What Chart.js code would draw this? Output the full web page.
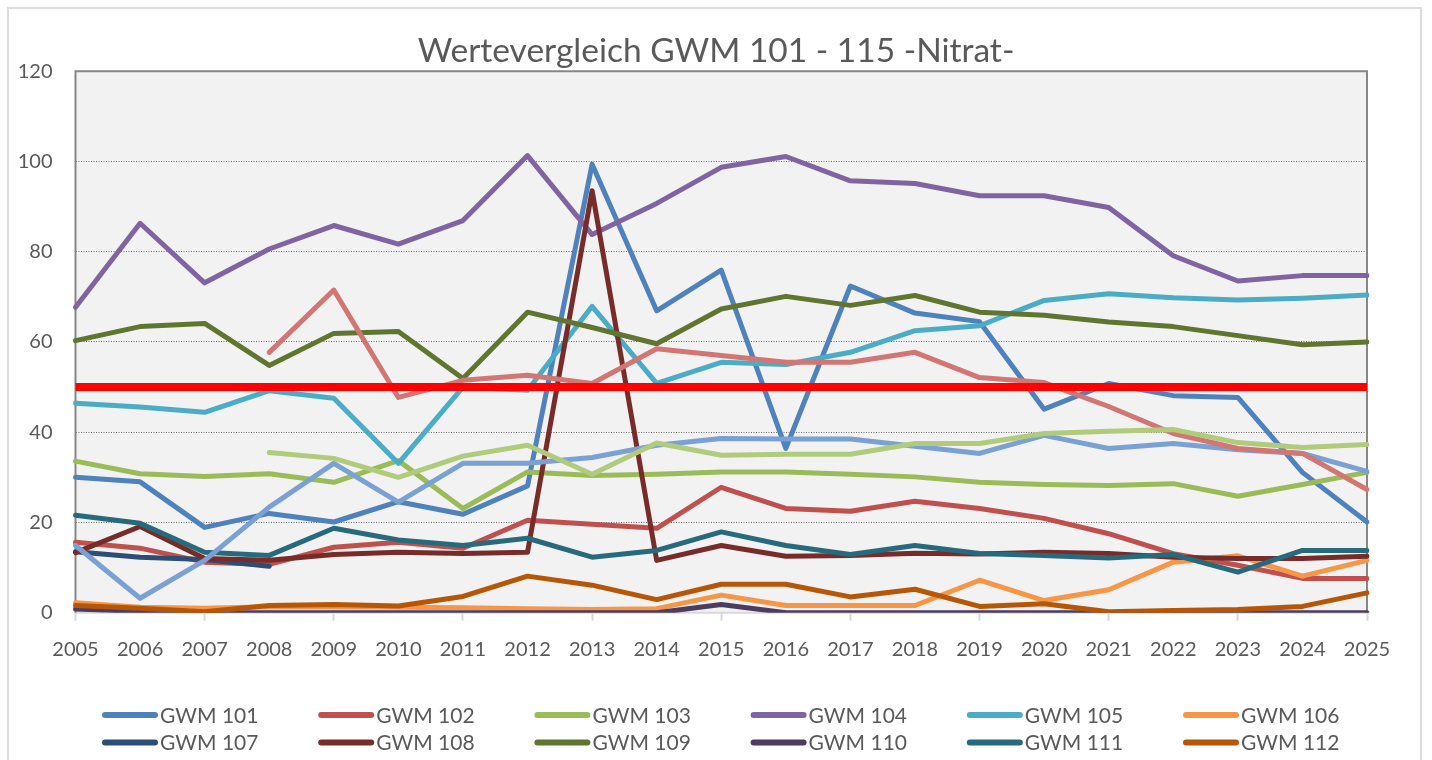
<!DOCTYPE html>
<html><head><meta charset="utf-8">
<script src="https://cdn.jsdelivr.net/npm/chart.js@4.4.1/dist/chart.umd.min.js"></script>
<style>
html,body{margin:0;padding:0;background:#fff;overflow:hidden;width:1432px;height:760px}
#frame{position:absolute;left:7px;top:7px;width:1415px;height:820px;border:2px solid #dcdcdc;box-sizing:border-box}
#c{position:absolute;left:0;top:0}
</style></head><body>
<div id="frame"></div>
<canvas id="c" width="1432" height="760"></canvas>
<script>
const years = ['2005','2006','2007','2008','2009','2010','2011','2012','2013','2014','2015','2016','2017','2018','2019','2020','2021','2022','2023','2024','2025'];
const seriesNames = ['GWM 101','GWM 102','GWM 103','GWM 104','GWM 105','GWM 106','GWM 107','GWM 108','GWM 109','GWM 110','GWM 111','GWM 112','GWM 113','GWM 114','GWM 115'];
const seriesColors = ['#4f81bd','#c0504d','#9bbb59','#8064a2','#4bacc6','#f79646','#2c4d75','#772c2a','#5f7530','#4d3b62','#276a7c','#b65708','#7ba0d4','#d27674','#b0cb7b'];

const gwm101 = [30.0, 29.0, 18.9, 22.0, 20.1, 24.6, 21.8, 28.1, 99.4, 66.9, 75.9, 36.4, 72.4, 66.4, 64.5, 45.1, 50.8, 48.1, 47.7, 31.1, 20.1];
const gwm102 = [15.6, 14.3, 11.2, 10.7, 14.5, 15.6, 14.3, 20.5, 19.6, 18.7, 27.8, 23.1, 22.5, 24.7, 23.1, 20.9, 17.5, 13.1, 10.5, 7.6, 7.6];
const gwm103 = [33.6, 30.8, 30.2, 30.8, 28.9, 33.7, 23.1, 31.2, 30.4, 30.7, 31.2, 31.2, 30.7, 30.1, 28.9, 28.4, 28.2, 28.6, 25.8, 28.4, 31.1];
const gwm104 = [67.7, 86.3, 73.1, 80.6, 85.8, 81.7, 86.9, 101.3, 83.8, 90.7, 98.7, 101.1, 95.7, 95.1, 92.4, 92.4, 89.8, 79.1, 73.5, 74.7, 74.7];
const gwm105 = [46.4, 45.6, 44.4, 49.2, 47.5, 33.1, 50.0, 49.3, 67.9, 50.8, 55.5, 55.0, 57.7, 62.5, 63.6, 69.2, 70.7, 69.8, 69.3, 69.7, 70.4];
const gwm106 = [2.2, 1.2, 1.0, 1.3, 1.3, 1.2, 1.1, 0.9, 0.7, 0.9, 3.9, 1.6, 1.6, 1.6, 7.2, 2.7, 5.1, 11.2, 12.6, 8.1, 11.6];
const gwm107 = [13.5, 12.3, 11.8, 10.3, null, null, null, null, null, null, null, null, null, null, null, null, null, null, null, null, null];
const gwm108 = [13.3, 19.1, 12.0, 11.6, 12.9, 13.4, 13.1, 13.4, 93.5, 11.6, 14.9, 12.5, 12.7, 13.2, 13.0, 13.4, 13.1, 12.3, 12.0, 12.0, 12.5];
const gwm109 = [60.3, 63.4, 64.1, 54.8, 61.9, 62.3, 51.9, 66.6, 63.2, 59.6, 67.3, 70.1, 68.1, 70.3, 66.6, 65.9, 64.4, 63.4, 61.4, 59.4, 60.0];
const gwm110 = [0.8, 0.3, 0, 0, 0, 0, 0, 0, 0, 0, 1.8, 0, 0, 0, 0, 0, 0, 0, 0, 0, 0];
const gwm111 = [21.6, 19.8, 13.4, 12.7, 18.7, 16.1, 14.9, 16.5, 12.3, 13.8, 17.9, 14.9, 12.9, 14.9, 13.1, 12.7, 12.1, 12.9, 9.0, 13.8, 13.8];
const gwm112 = [1.6, 1.0, 0.2, 1.6, 1.8, 1.5, 3.6, 8.1, 6.1, 2.9, 6.3, 6.3, 3.5, 5.2, 1.4, 2.0, 0.2, 0.5, 0.7, 1.4, 4.4];
const gwm113 = [14.9, 3.2, 11.6, 23.4, 33.1, 24.5, 33.1, 33.1, 34.4, 37.1, 38.6, 38.5, 38.5, 36.9, 35.3, 39.3, 36.4, 37.5, 36.1, 35.3, 31.3];
const gwm114 = [null, null, null, 57.7, 71.5, 47.7, 51.5, 52.6, 50.8, 58.5, 57.0, 55.5, 55.5, 57.7, 52.1, 51.0, 45.7, 39.7, 36.4, 35.3, 27.3];
const gwm115 = [null, null, null, 35.5, 34.2, 30.0, 34.7, 37.1, 30.7, 37.6, 34.9, 35.1, 35.1, 37.5, 37.5, 39.7, 40.2, 40.6, 37.7, 36.6, 37.3];
const limitLine = [50, 50, 50, 50, 50, 50, 50, 50, 50, 50, 50, 50, 50, 50, 50, 50, 50, 50, 50, 50, 50];
const yTicks = [0, 20, 40, 60, 80, 100, 120];

const seriesValues = [gwm101, gwm102, gwm103, gwm104, gwm105, gwm106, gwm107, gwm108, gwm109, gwm110, gwm111, gwm112, gwm113, gwm114, gwm115];

const FONT = 'Lato';
const TEXT = '#595959';

const datasets = seriesValues.map((vals, i) => ({
  label: seriesNames[i],
  data: vals,
  borderColor: seriesColors[i],
  backgroundColor: seriesColors[i],
  borderWidth: 5,
  pointRadius: 0,
  tension: 0,
  fill: false,
  spanGaps: false,
  borderCapStyle: 'round',
  borderJoinStyle: 'round',
  order: -i
}));
datasets.push({
  label: 'Grenzwert',
  isLimit: true,
  data: limitLine,
  borderColor: '#ff0000',
  borderWidth: 8,
  pointRadius: 0,
  tension: 0,
  fill: false,
  borderCapStyle: 'butt',
  order: -100
});

const plotFrame = {
  id: 'plotFrame',
  beforeDraw(chart) {
    const {ctx, chartArea: a} = chart;
    ctx.save();
    ctx.fillStyle = '#f2f2f2';
    ctx.fillRect(a.left, a.top, a.right - a.left, a.bottom - a.top);
    ctx.restore();
  },
  beforeDatasetsDraw(chart) {
    const {ctx, chartArea: a} = chart;
    ctx.save();
    ctx.lineWidth = 2;
    ctx.strokeStyle = '#d9d9d9';
    ctx.beginPath(); ctx.moveTo(a.left, a.bottom); ctx.lineTo(a.right, a.bottom); ctx.stroke();
    ctx.strokeStyle = '#868686';
    ctx.beginPath();
    ctx.moveTo(a.left, a.bottom); ctx.lineTo(a.left, a.top); ctx.lineTo(a.right, a.top); ctx.lineTo(a.right, a.bottom);
    ctx.stroke();
    ctx.restore();
  }
};

const gridLegend = {
  id: 'gridLegend',
  afterDraw(chart) {
    const ctx = chart.ctx;
    const items = chart.data.datasets.filter(d => !d.isLimit);
    ctx.save();
    items.forEach((d, i) => {
      const col = i % 6, row = Math.floor(i / 6);
      const x0 = 102 + col * 216.2;
      const yc = 715 + row * 27.5;
      ctx.strokeStyle = d.borderColor;
      ctx.lineWidth = 6;
      ctx.lineCap = 'round';
      ctx.beginPath(); ctx.moveTo(x0 + 3, yc); ctx.lineTo(x0 + 53, yc); ctx.stroke();
      ctx.fillStyle = TEXT;
      ctx.font = '21px ' + FONT;
      ctx.textBaseline = 'alphabetic';
      ctx.textAlign = 'left';
      ctx.fillText(d.label, x0 + 58, yc + 7.5);
    });
    ctx.restore();
  }
};

function draw() {
  new Chart(document.getElementById('c'), {
    type: 'line',
    data: {labels: years, datasets},
    options: {
      responsive: false,
      animation: false,
      events: [],
      layout: {padding: {left: 0, right: 0, top: 0, bottom: 97.3}},
      plugins: {
        legend: {display: false},
        tooltip: {enabled: false},
        title: {
          display: true,
          text: 'Wertevergleich GWM 101 - 115 -Nitrat-',
          color: TEXT,
          font: {family: FONT, size: 33.5, weight: 'normal'},
          padding: {top: 31, bottom: 0}
        }
      },
      scales: {
        x: {
          grid: {
            drawOnChartArea: false, drawTicks: true, tickLength: 8, tickWidth: 2,
            tickColor: (c) => (c.index % 2 === 0 ? '#d9d9d9' : 'rgba(0,0,0,0)')
          },
          border: {display: false},
          ticks: {color: TEXT, font: {family: FONT, size: 20}, padding: 17, maxRotation: 0, autoSkip: false},
          afterFit: (s) => { s.height = 50; }
        },
        y: {
          min: 0, max: 120,
          afterBuildTicks: (s) => { s.ticks = yTicks.map(v => ({value: v})); },
          ticks: {color: TEXT, font: {family: FONT, size: 20}, padding: 23},
          grid: {
            drawTicks: false, lineWidth: 1,
            color: (c) => (c.tick && c.tick.value > 0 && c.tick.value < 120 ? '#6f6f6f' : 'rgba(0,0,0,0)')
          },
          border: {display: false, dash: [1, 1.5]},
          afterFit: (s) => { s.width = 75.5; }
        },
        yRight: {
          position: 'right', display: true,
          grid: {display: false}, border: {display: false},
          ticks: {display: false},
          afterFit: (s) => { s.width = 65; }
        }
      }
    },
    plugins: [plotFrame, gridLegend]
  });
}
if (document.fonts && document.fonts.load) {
  document.fonts.load('20px Lato').then(draw, draw);
} else { draw(); }
</script>
</body></html>
